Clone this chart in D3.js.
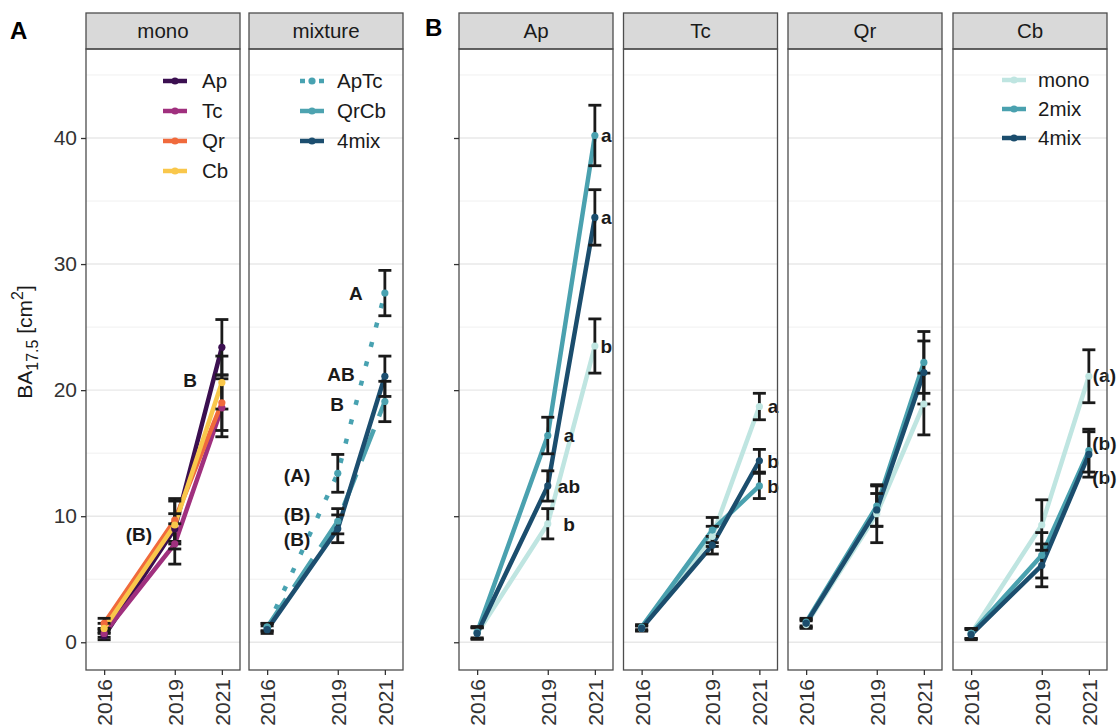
<!DOCTYPE html>
<html>
<head>
<meta charset="utf-8">
<script src="https://cdn.jsdelivr.net/npm/d3@7"></script>
<style>
body { margin: 0; background: #fff; }
text { font-family: "Liberation Sans", Arial, sans-serif; }
</style>
</head>
<body>
<div id="chart"></div>
<script>
// years measured
var years = [2016, 2019, 2021];
var yTicks = [0, 10, 20, 30, 40];
var yMinor = [5, 15, 25, 35, 45];

// panel A, mono: mean and error half width per year
var monoAp = [0.5, 9.0, 23.4], monoApErr = [0.3, 1.2, 2.2];
var monoTc = [0.7, 7.8, 18.6], monoTcErr = [0.3, 1.6, 2.3];
var monoQr = [1.5, 9.7, 19.0], monoQrErr = [0.4, 1.7, 2.2];
var monoCb = [1.1, 9.3, 20.6], monoCbErr = [0.4, 1.9, 2.1];

// panel A, mixture
var mixApTc = [1.2, 13.4, 27.7], mixApTcErr = [0.3, 1.5, 1.8];
var mixQrCb = [1.2, 9.6, 19.1], mixQrCbErr = [0.3, 1.0, 1.6];
var mix4mix = [1.0, 9.0, 21.1], mix4mixErr = [0.3, 1.1, 1.6];

// panel B, per species: mono / 2mix / 4mix
var apMono = [0.7, 9.4, 23.5], apMonoErr = [0.45, 1.2, 2.15];
var ap2mix = [0.8, 16.4, 40.2], ap2mixErr = [0.45, 1.45, 2.4];
var ap4mix = [0.7, 12.4, 33.7], ap4mixErr = [0.45, 1.2, 2.2];

var tcMono = [1.1, 8.4, 18.7], tcMonoErr = [0.2, 0.8, 1.05];
var tc2mix = [1.2, 8.9, 12.4], tc2mixErr = [0.2, 1.0, 1.0];
var tc4mix = [1.1, 7.7, 14.4], tc4mixErr = [0.2, 0.7, 0.9];

var qrMono = [1.4, 10.2, 18.9], qrMonoErr = [0.3, 2.3, 2.45];
var qr2mix = [1.6, 10.8, 22.2], qr2mixErr = [0.3, 1.6, 2.45];
var qr4mix = [1.5, 10.5, 21.4], qr4mixErr = [0.3, 1.3, 2.5];

var cbMono = [0.7, 9.3, 21.1], cbMonoErr = [0.4, 2.0, 2.1];
var cb2mix = [0.7, 6.9, 15.2], cb2mixErr = [0.4, 1.8, 1.7];
var cb4mix = [0.6, 6.1, 14.9], cb4mixErr = [0.4, 1.7, 1.8];

// significance letters (x in years, y in cm2)
var labMono = [{x: 2019.65, y: 20.8, t: "B"}, {x: 2017.48, y: 8.6, t: "(B)"}];
var labMix = [{x: 2019.77, y: 27.7, t: "A"}, {x: 2019.14, y: 21.3, t: "AB"}, {x: 2018.97, y: 18.9, t: "B"},
              {x: 2017.27, y: 13.25, t: "(A)"}, {x: 2017.27, y: 10.2, t: "(B)"}, {x: 2017.27, y: 8.2, t: "(B)"}];
var labAp = [{x: 2021.49, y: 40.2, t: "a"}, {x: 2021.49, y: 33.7, t: "a"}, {x: 2021.49, y: 23.5, t: "b"},
             {x: 2019.9, y: 16.4, t: "a"}, {x: 2019.9, y: 12.4, t: "ab"}, {x: 2019.9, y: 9.4, t: "b"}];
var labTc = [{x: 2021.58, y: 18.7, t: "a"}, {x: 2021.58, y: 14.4, t: "b"}, {x: 2021.58, y: 12.4, t: "b"}];
var labCb = [{x: 2021.66, y: 21.2, t: "(a)"}, {x: 2021.66, y: 15.8, t: "(b)"}, {x: 2021.66, y: 13.1, t: "(b)"}];

var colMono = {Ap: "#3b0f50", Tc: "#a0307e", Qr: "#f06a3c", Cb: "#f9c74b"};
var colMix = {ApTc: "#48a2b1", QrCb: "#4da3b0", "4mix": "#1c4e6f"};
var colB = {mono: "#bfe5e1", "2mix": "#4aa1af", "4mix": "#1b4d6d"};

function s(name, color, mean, err, dash) {
    return {name: name, color: color, mean: mean, err: err, dash: dash || null};
}

var bSeries = function(m, me, t, te, f, fe) {
    return [s("mono", colB.mono, m, me), s("2mix", colB["2mix"], t, te), s("4mix", colB["4mix"], f, fe)];
};

var panels = [
    {title: "mono", left: 86, yLabels: true, yTicks: true, labels: labMono,
     series: [s("Ap", colMono.Ap, monoAp, monoApErr), s("Tc", colMono.Tc, monoTc, monoTcErr),
              s("Qr", colMono.Qr, monoQr, monoQrErr), s("Cb", colMono.Cb, monoCb, monoCbErr)],
     legend: {keyX: 77, textX: 116, y0: 81, dy: 30}},
    {title: "mixture", left: 249, labels: labMix,
     series: [s("ApTc", colMix.ApTc, mixApTc, mixApTcErr, "5 15"), s("QrCb", colMix.QrCb, mixQrCb, mixQrCbErr, "34 14"),
              s("4mix", colMix["4mix"], mix4mix, mix4mixErr)],
     legend: {keyX: 51, textX: 88, y0: 81, dy: 30}},
    {title: "Ap", left: 459, yTicks: true, labels: labAp, series: bSeries(apMono, apMonoErr, ap2mix, ap2mixErr, ap4mix, ap4mixErr)},
    {title: "Tc", left: 623.5, labels: labTc, series: bSeries(tcMono, tcMonoErr, tc2mix, tc2mixErr, tc4mix, tc4mixErr)},
    {title: "Qr", left: 788, labels: [], series: bSeries(qrMono, qrMonoErr, qr2mix, qr2mixErr, qr4mix, qr4mixErr)},
    {title: "Cb", left: 953, labels: labCb, series: bSeries(cbMono, cbMonoErr, cb2mix, cb2mixErr, cb4mix, cb4mixErr),
     legend: {keyX: 49, textX: 85, y0: 80, dy: 29}}
];

var svgWidth = 1117, svgHeight = 727;
var panelW = 154, stripTop = 13, stripH = 36, plotTop = 49, plotBottom = 670;

var svg = d3.select("#chart").append("svg")
    .attr("width", svgWidth)
    .attr("height", svgHeight);

var y = d3.scaleLinear().domain([-2.2, 47.06]).range([plotBottom, plotTop]);

panels.forEach(function(p) {
    var x = d3.scaleLinear().domain([2015.23, 2021.77]).range([p.left, p.left + panelW]);
    var g = svg.append("g");

    // grid
    g.selectAll(".minor").data(yMinor).enter().append("line")
        .attr("x1", p.left).attr("x2", p.left + panelW)
        .attr("y1", d => y(d)).attr("y2", d => y(d))
        .attr("stroke", "#f0f0f0").attr("stroke-width", 1);
    g.selectAll(".major").data(yTicks).enter().append("line")
        .attr("x1", p.left).attr("x2", p.left + panelW)
        .attr("y1", d => y(d)).attr("y2", d => y(d))
        .attr("stroke", "#e8e8e8").attr("stroke-width", 1.4);

    // strip
    g.append("rect")
        .attr("x", p.left).attr("y", stripTop)
        .attr("width", panelW).attr("height", stripH)
        .attr("fill", "#d9d9d9").attr("stroke", "#4d4d4d").attr("stroke-width", 1.3);
    g.append("text")
        .attr("x", p.left + panelW / 2).attr("y", stripTop + stripH / 2)
        .attr("dy", "0.36em").attr("text-anchor", "middle")
        .attr("font-size", 20.5).attr("fill", "#1a1a1a")
        .text(p.title);

    // lines
    var line = d3.line()
        .x((d, i) => x(years[i]))
        .y(d => y(d));
    p.series.forEach(function(se) {
        g.append("path")
            .attr("d", line(se.mean))
            .attr("fill", "none")
            .attr("stroke", se.color)
            .attr("stroke-width", 4.5)
            .attr("stroke-linejoin", "round")
            .attr("stroke-dasharray", se.dash);
    });

    // error bars
    p.series.forEach(function(se) {
        se.mean.forEach(function(m, i) {
            var cx = x(years[i]), lo = y(m - se.err[i]), hi = y(m + se.err[i]);
            g.append("line").attr("x1", cx).attr("x2", cx).attr("y1", lo).attr("y2", hi)
                .attr("stroke", "#1a1a1a").attr("stroke-width", 2.8);
            [lo, hi].forEach(function(yy) {
                g.append("line").attr("x1", cx - 6.5).attr("x2", cx + 6.5).attr("y1", yy).attr("y2", yy)
                    .attr("stroke", "#1a1a1a").attr("stroke-width", 2.8);
            });
        });
    });

    // points
    p.series.forEach(function(se) {
        g.selectAll(null).data(se.mean).enter().append("circle")
            .attr("cx", (d, i) => x(years[i]))
            .attr("cy", d => y(d))
            .attr("r", 3.6)
            .attr("fill", se.color);
    });

    // letters
    g.selectAll(".lab").data(p.labels).enter().append("text")
        .attr("x", d => x(d.x)).attr("y", d => y(d.y))
        .attr("dy", "0.36em").attr("text-anchor", "middle")
        .attr("font-size", 19).attr("font-weight", "bold").attr("fill", "#1a1a1a")
        .text(d => d.t);

    // legend
    if (p.legend) {
        var L = p.legend;
        p.series.forEach(function(se, i) {
            var ly = L.y0 + i * L.dy;
            g.append("line")
                .attr("x1", p.left + L.keyX).attr("x2", p.left + L.keyX + 24)
                .attr("y1", ly).attr("y2", ly)
                .attr("stroke", se.color).attr("stroke-width", 4.5)
                .attr("stroke-dasharray", se.dash === "5 15" ? "5 14" : null);
            g.append("circle")
                .attr("cx", p.left + L.keyX + 12).attr("cy", ly).attr("r", 3.6)
                .attr("fill", se.color);
            g.append("text")
                .attr("x", p.left + L.textX).attr("y", ly)
                .attr("dy", "0.36em").attr("font-size", 20.5).attr("fill", "#1a1a1a")
                .text(se.name);
        });
    }

    // panel border
    g.append("rect")
        .attr("x", p.left).attr("y", plotTop)
        .attr("width", panelW).attr("height", plotBottom - plotTop)
        .attr("fill", "none").attr("stroke", "#4d4d4d").attr("stroke-width", 1.3);

    // x axis
    var xAxis = d3.axisBottom(x).tickValues(years).tickFormat(d3.format("d")).tickSize(5).tickSizeOuter(0);
    var xg = g.append("g").attr("transform", `translate(0, ${plotBottom})`).call(xAxis);
    xg.select(".domain").remove();
    xg.selectAll("line").attr("stroke", "#333").attr("stroke-width", 1.3);
    xg.selectAll("text")
        .attr("font-size", 21).attr("fill", "#333")
        .attr("transform", "rotate(-90)")
        .attr("text-anchor", "end")
        .attr("x", -9).attr("y", 0).attr("dy", "0.36em");

    // y axis
    if (p.yTicks) {
        var yAxis = d3.axisLeft(y).tickValues(yTicks).tickSize(5).tickSizeOuter(0)
            .tickFormat(p.yLabels ? d3.format("d") : "");
        var yg = g.append("g").attr("transform", `translate(${p.left}, 0)`).call(yAxis);
        yg.select(".domain").remove();
        yg.selectAll("line").attr("stroke", "#333").attr("stroke-width", 1.3);
        yg.selectAll("text").attr("font-size", 21).attr("fill", "#333").attr("x", -9);
    }
});

// y axis title
var yt = svg.append("text")
    .attr("transform", "translate(32, 342) rotate(-90)")
    .attr("text-anchor", "middle")
    .attr("font-size", 21).attr("fill", "#1a1a1a");
yt.append("tspan").text("BA");
yt.append("tspan").attr("font-size", 16).attr("dy", 6).text("17.5");
yt.append("tspan").attr("dy", -6).text(" [cm");
yt.append("tspan").attr("font-size", 16).attr("dy", -9).text("2");
yt.append("tspan").attr("dy", 9).text("]");

// panel tags
svg.append("text").attr("x", 10).attr("y", 39).attr("font-size", 24).attr("font-weight", "bold").text("A");
svg.append("text").attr("x", 425).attr("y", 36).attr("font-size", 24).attr("font-weight", "bold").text("B");
</script>
</body>
</html>
